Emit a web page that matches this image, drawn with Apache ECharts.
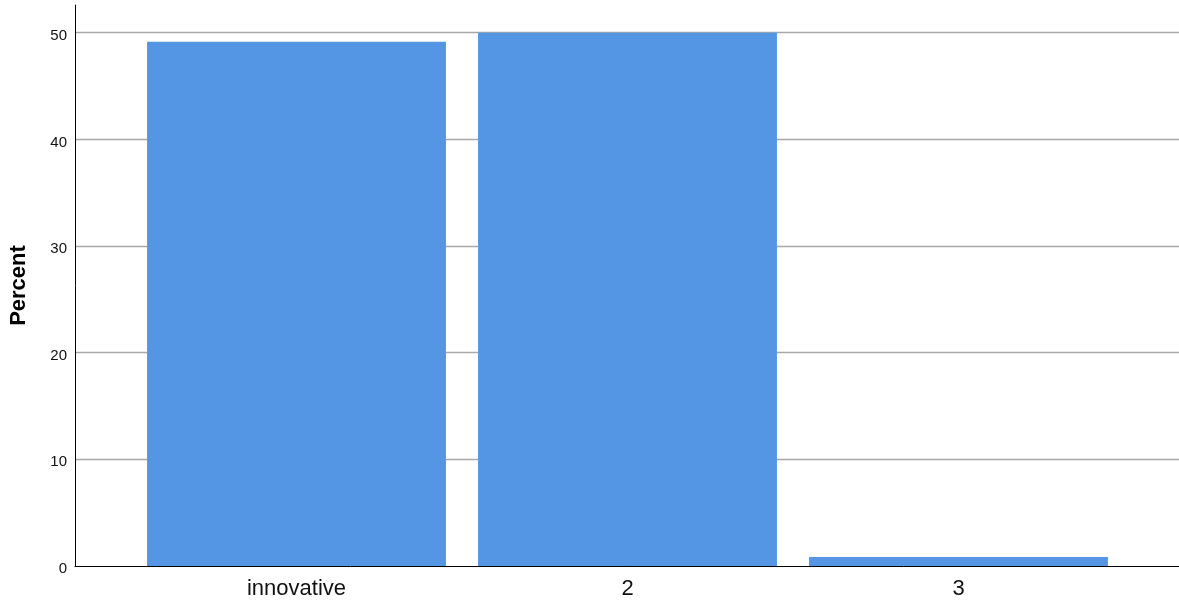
<!DOCTYPE html>
<html>
<head>
<meta charset="utf-8">
<script src="https://cdn.jsdelivr.net/npm/echarts@6/dist/echarts.min.js"></script>
<style>html,body{margin:0;padding:0;background:#fff}#c{width:1179px;height:605px}</style>
</head>
<body>
<div id="c"></div>
<script>
const categories = ['innovative', '2', '3'];
const percentValues = [49.15, 50.0, 0.85];
const yTicks = [0, 10, 20, 30, 40, 50];

const chart = echarts.init(document.getElementById('c'), null, {renderer: 'canvas'});
const yMax = 52.6;
const FONT = 'Liberation Sans, Arial, sans-serif';
chart.setOption({
  animation: false,
  grid: [
    {left: 75, right: 0, top: 5, bottom: 39, containLabel: false},
    {left: 131, right: 55, top: 5, bottom: 39, containLabel: false},
    {left: 75, right: 0, top: 8, bottom: 36, containLabel: false}
  ],
  xAxis: [
    {gridIndex: 0, type: 'category', data: [''], axisLine: {show: true, lineStyle: {color: '#000', width: 1}}, axisTick: {show: false}, axisLabel: {show: false}},
    {gridIndex: 1, type: 'category', data: categories, axisLine: {show: false}, axisTick: {show: false},
     axisLabel: {color: '#111', fontFamily: FONT, fontSize: 22, margin: 12}},
    {gridIndex: 2, type: 'category', data: [''], show: false}
  ],
  yAxis: [
    {gridIndex: 0, type: 'value', min: 0, max: yMax, interval: 10,
     name: 'Percent', nameLocation: 'middle', nameGap: 45, nameRotate: 90,
     nameTextStyle: {color: '#000', fontFamily: FONT, fontSize: 22, fontWeight: 'bold'},
     axisLine: {show: true, lineStyle: {color: '#000', width: 1}}, axisTick: {show: false},
     axisLabel: {show: false},
     splitLine: {show: true, showMaxLine: false, showMinLine: false, lineStyle: {color: '#a8a8a8', width: 1.3}}},
    {gridIndex: 1, type: 'value', min: 0, max: yMax, interval: 10, show: false, splitLine: {show: false}},
    {gridIndex: 2, type: 'value', min: 0, max: yMax, interval: 10,
     axisLine: {show: false}, axisTick: {show: false}, splitLine: {show: false},
     axisLabel: {color: '#111', fontFamily: FONT, fontSize: 15, margin: 8,
       formatter: v => yTicks.includes(v) ? String(v) : ''}}
  ],
  series: [{
    type: 'bar', xAxisIndex: 1, yAxisIndex: 1, data: percentValues,
    barWidth: '90.3%', itemStyle: {color: '#5596e4'}
  }]
});
</script>
</body>
</html>
